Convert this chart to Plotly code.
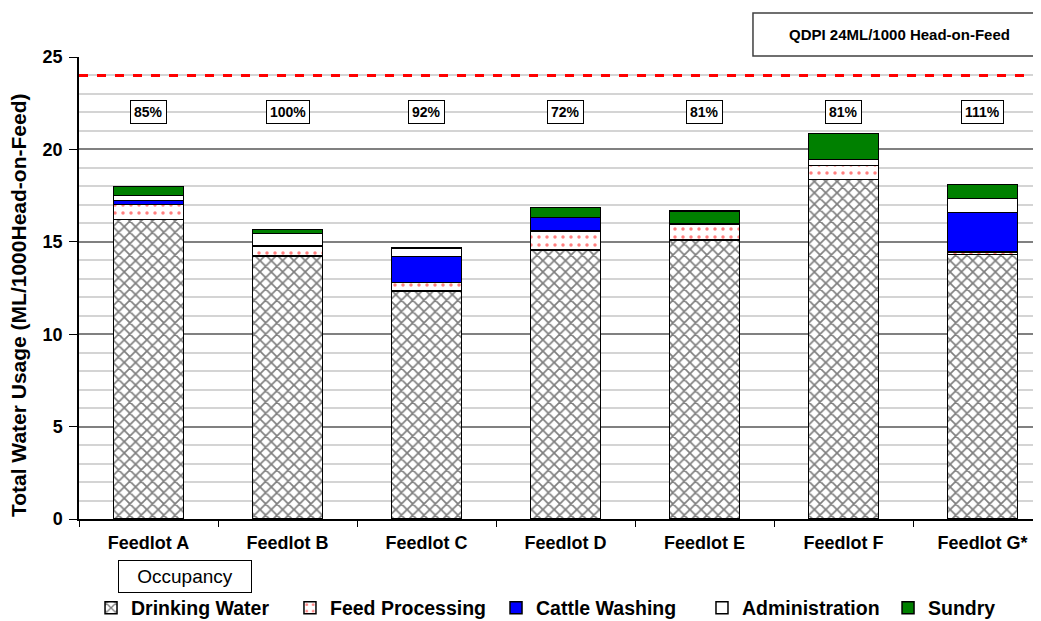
import plotly.graph_objects as go

categories = ["Feedlot A", "Feedlot B", "Feedlot C", "Feedlot D", "Feedlot E", "Feedlot F", "Feedlot G*"]
drinking_water = [16.2, 14.23, 12.35, 14.56, 15.1, 18.38, 14.3]
feed_processing = [0.83, 0.54, 0.44, 1.02, 0.85, 0.74, 0.15]
cattle_washing = [0.2, 0.0, 1.41, 0.74, 0.0, 0.0, 2.13]
administration = [0.27, 0.69, 0.46, 0.0, 0.0, 0.34, 0.75]
sundry = [0.5, 0.2, 0.0, 0.53, 0.73, 1.41, 0.78]
occupancy = ["85%", "100%", "92%", "72%", "81%", "81%", "111%"]
qdpi_limit = 24
occupancy_label_y = 22

FONT = "Arial, Liberation Sans, sans-serif"
line = dict(color="black", width=1.5)

fig = go.Figure()
fig.add_trace(go.Bar(x=categories, y=drinking_water, name="<b>Drinking Water</b>", legend="legend",
                     marker=dict(color="white", line=line,
                                 pattern=dict(shape="x", fgcolor="black", bgcolor="white", size=8, solidity=0.38))))
fig.add_trace(go.Bar(x=categories, y=feed_processing, name="<b>Feed Processing</b>", legend="legend2",
                     marker=dict(color="white", line=line,
                                 pattern=dict(shape=".", fgcolor="red", bgcolor="white", size=8, solidity=0.15))))
fig.add_trace(go.Bar(x=categories, y=cattle_washing, name="<b>Cattle Washing</b>", legend="legend3",
                     marker=dict(color="#0000FF", line=line)))
fig.add_trace(go.Bar(x=categories, y=administration, name="<b>Administration</b>", legend="legend4",
                     marker=dict(color="white", line=line)))
fig.add_trace(go.Bar(x=categories, y=sundry, name="<b>Sundry</b>", legend="legend5",
                     marker=dict(color="#008000", line=line)))

for c, o in zip(categories, occupancy):
    fig.add_annotation(x=c, y=occupancy_label_y, text="<b>" + o + "</b>", showarrow=False,
                       xanchor="center", yanchor="middle",
                       font=dict(family=FONT, size=14, color="black"),
                       bordercolor="black", borderwidth=1, bgcolor="white", borderpad=3)

# QDPI line
fig.add_shape(type="line", xref="paper", yref="y", x0=0, x1=1, y0=qdpi_limit, y1=qdpi_limit,
              line=dict(color="#FF0000", width=3, dash="dash"))
# major dark gridlines
for v in [5, 10, 15]:
    fig.add_shape(type="line", xref="paper", yref="y", x0=0, x1=1, y0=v, y1=v,
                  line=dict(color="black", width=1.2), layer="below")

# QDPI box
fig.add_shape(type="rect", xref="paper", yref="paper", x0=0.7006, x1=1.05, y0=1.002, y1=1.095,
              line=dict(color="#404040", width=1.5), fillcolor="white")
fig.add_annotation(xref="paper", yref="paper", x=0.853, y=1.048, text="<b>QDPI 24ML/1000 Head-on-Feed</b>",
                   showarrow=False, xanchor="center", yanchor="middle",
                   font=dict(family=FONT, size=15, color="black"))

# Occupancy box
fig.add_annotation(xref="paper", yref="paper", x=0.1097, y=-0.125, text="Occupancy", showarrow=False,
                   xanchor="center", yanchor="middle",
                   font=dict(family="Liberation Sans Narrow, Arial Narrow, sans-serif", size=19, color="black"),
                   bordercolor="black", borderwidth=1, bgcolor="white", borderpad=5, width=122)

# Y axis title
fig.add_annotation(xref="paper", yref="paper", x=-0.0634, y=0.463, text="<b>Total Water Usage (ML/1000Head-on-Feed)</b>",
                   textangle=-90, showarrow=False, xanchor="center", yanchor="middle",
                   font=dict(family=FONT, size=21, color="black"))

def leg(xpos):
    return dict(orientation="h", x=xpos, xanchor="left", y=-0.193, yanchor="middle",
                font=dict(family=FONT, size=19.5, color="black"),
                itemwidth=30, bgcolor="rgba(0,0,0,0)")

# page body has an 8px margin: figure is sized/offset to compensate
fig.update_layout(
    width=1033, height=613,
    margin=dict(l=71, r=0, t=49, b=102, autoexpand=False),
    barmode="stack", bargap=0.496,
    plot_bgcolor="white", paper_bgcolor="white",
    font=dict(family=FONT, color="black"),
    legend=leg(0.0125), legend2=leg(0.2193), legend3=leg(0.4335),
    legend4=leg(0.6476), legend5=leg(0.841),
    showlegend=True,
)
fig.update_xaxes(range=[-0.5, 6.42], showline=True, linecolor="black", linewidth=1.5,
                 ticks="outside", tickson="boundaries", ticklen=6, tickcolor="black",
                 tickfont=dict(family=FONT, size=18, color="black"),
                 tickvals=categories, ticktext=["<b>" + c + "</b>" for c in categories],
                 ticklabelstandoff=7, showgrid=False)
fig.update_yaxes(range=[0, 25], dtick=5, showline=True, linecolor="black", linewidth=1.5,
                 ticks="outside", ticklen=8, tickcolor="black",
                 tickfont=dict(family=FONT, size=18, color="black"),
                 tickprefix="<b>", ticksuffix="</b>", ticklabelstandoff=3,
                 gridcolor="#808080", gridwidth=2,
                 minor=dict(dtick=1, showgrid=True, gridcolor="#d4d4d4", gridwidth=1.5),
                 zeroline=False)

fig.write_html("out.html")
